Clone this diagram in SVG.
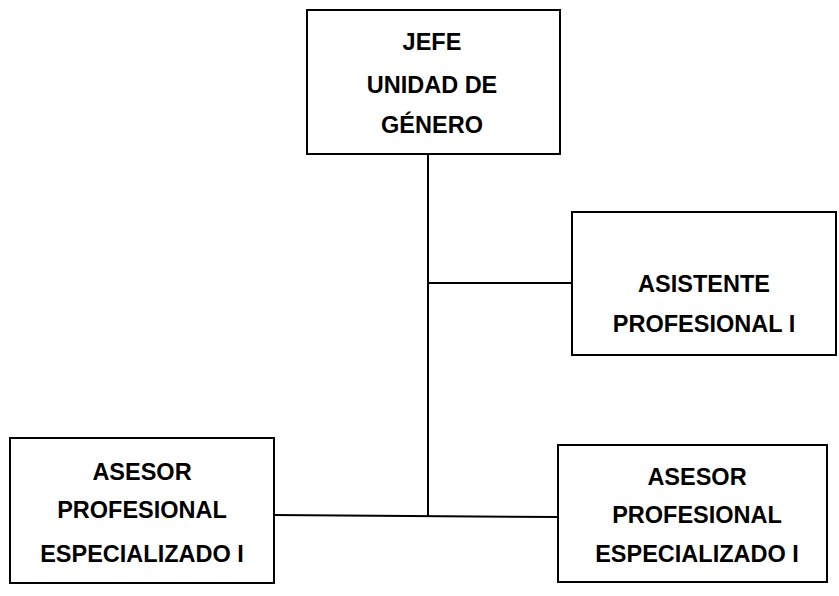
<svg xmlns="http://www.w3.org/2000/svg" width="839" height="596" viewBox="0 0 839 596">
<style>
.box{fill:#fff;stroke:#000;stroke-width:2}
.t{font-family:"Liberation Sans",Arial,sans-serif;font-weight:bold;font-size:23.5px;fill:#000;text-anchor:middle}
.c{stroke:#000;stroke-width:2;fill:none}
</style>
<rect width="839" height="596" fill="#fff"/>
<g id="connectors">
<line class="c" x1="428" y1="154" x2="428" y2="516"/>
<line class="c" x1="428" y1="283" x2="572" y2="283"/>
<line class="c" x1="274" y1="515" x2="558" y2="517"/>
</g>
<g id="jefe">
<rect class="box" x="307" y="10" width="253" height="144"/>
<text class="t" x="432" y="50">JEFE</text>
<text class="t" x="432" y="93">UNIDAD DE</text>
<text class="t" x="432" y="133">GÉNERO</text>
</g>
<g id="asistente">
<rect class="box" x="572" y="212" width="264" height="143"/>
<text class="t" x="704" y="292">ASISTENTE</text>
<text class="t" x="704" y="332">PROFESIONAL I</text>
</g>
<g id="asesor1">
<rect class="box" x="10" y="438" width="264" height="145"/>
<text class="t" x="142" y="480">ASESOR</text>
<text class="t" x="142" y="518">PROFESIONAL</text>
<text class="t" x="142" y="562">ESPECIALIZADO I</text>
</g>
<g id="asesor2">
<rect class="box" x="558" y="445" width="269" height="137"/>
<text class="t" x="697" y="485">ASESOR</text>
<text class="t" x="697" y="523">PROFESIONAL</text>
<text class="t" x="697" y="562">ESPECIALIZADO I</text>
</g>
</svg>
